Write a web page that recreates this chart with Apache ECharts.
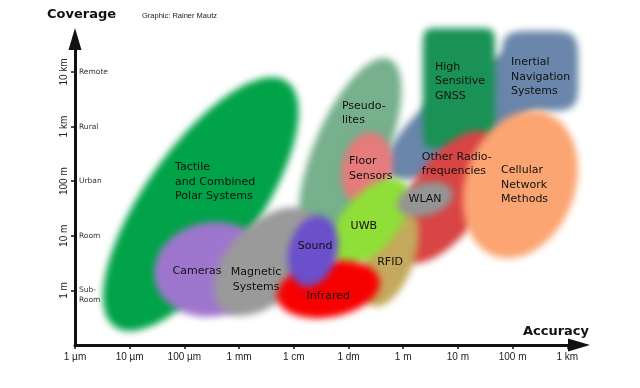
<!DOCTYPE html>
<html><head><meta charset="utf-8">
<script src="https://cdn.jsdelivr.net/npm/echarts@6/dist/echarts.min.js"></script>
<style>html,body{margin:0;padding:0;background:#fff}#c{width:640px;height:388px}</style>
</head><body><div id="c"></div>
<script>
// x: log10(accuracy / 1 µm), y: log10(coverage / 1 m)
const xTickValues = [0,1,2,3,4,5,6,7,8,9];
const xTickLabels = ['1 µm','10 µm','100 µm','1 mm','1 cm','1 dm','1 m','10 m','100 m','1 km'];
const yTickValues = [0,1,2,3,4];
const yTickLabels = ['1 m','10 m','100 m','1 km','10 km'];
const yCategoryLabels = [' \nSub-\nRoom','Room','Urban','Rural','Remote'];

// technology regions (drawn bottom to top)
const techNames   = ['Tactile','Pseudolites','Inertial A','Inertial B','GNSS','Other RF','Cellular','Floor Sensors','RFID','UWB','WLAN','Cameras','Magnetic','Infrared','Sound'];
const accCenter   = [2.30, 5.03, 7.29, 8.50, 7.02, 6.80, 8.14, 5.34, 5.76, 5.39, 6.40, 2.50, 3.51, 4.63, 4.35];
const covCenter   = [1.58, 2.55, 3.28, 4.02, 3.70, 1.71, 1.94, 2.22, 0.61, 1.25, 1.67, 0.385, 0.53, 0.02, 0.72];
const semiMajor   = [2.74, 1.83, 1.94, 0.70, 0.66, 1.39, 1.39, 0.68, 0.95, 0.96, 0.52, 1.06, 1.20, 0.95, 0.66];
const semiMinor   = [1.04, 0.66, 0.64, 0.73, 1.10, 0.66, 1.00, 0.46, 0.44, 0.50, 0.30, 0.86, 0.70, 0.51, 0.44];
const tiltDeg     = [55, 67, 36, 0, 0, 56, 70, 80, 70, 50, 15, 10, 46, 10, 75];
const squareness  = [2, 2, 2, 5, 12, 2, 2, 2, 2, 2, 2, 2, 2, 2, 2];
const techColors  = ['#00a348','#76b08c','#6a86ab','#6a86ab','#1a9256','#d94444','#fba572','#e67b7b','#c4a95c','#90df38','#959595','#9f76ce','#9a9a9a','#f70000','#6b4fcb'];

// labels
const labelTexts = ['Tactile\nand Combined\nPolar Systems','Cameras','Magnetic\nSystems','Sound','Infrared','RFID','UWB','WLAN','Floor\nSensors','Pseudo-\nlites','Other Radio-\nfrequencies','High\nSensitive\nGNSS','Inertial\nNavigation\nSystems','Cellular\nNetwork\nMethods'];
const labelAcc   = [1.83, 2.23, 3.31, 4.39, 4.63, 5.76, 5.28, 6.40, 5.01, 4.88, 6.34, 6.58, 7.97, 7.79];
const labelCov   = [1.99, 0.35, 0.20, 0.81, -0.11, 0.51, 1.17, 1.67, 2.23, 3.25, 2.31, 3.83, 3.91, 1.93];
const labelAlign = ['left','center','center','center','center','center','center','center','left','left','left','left','left','left'];

const OFF = 3000;
function blobItem(params, api) {
  const i = api.value(2);
  const c = api.coord([api.value(0), api.value(1)]);
  const s = api.size([1, 1]);
  const th = tiltDeg[i] * Math.PI / 180, n = squareness[i];
  const pts = [];
  const N = 120;
  for (let k = 0; k < N; k++) {
    const t = k / N * 2 * Math.PI;
    const ct = Math.cos(t), st = Math.sin(t);
    const u = semiMajor[i] * Math.sign(ct) * Math.pow(Math.abs(ct), 2 / n);
    const v = semiMinor[i] * Math.sign(st) * Math.pow(Math.abs(st), 2 / n);
    const dx = u * Math.cos(th) - v * Math.sin(th);
    const dy = u * Math.sin(th) + v * Math.cos(th);
    pts.push([c[0] + dx * s[0] - OFF, c[1] - dy * s[1]]);
  }
  return {
    type: 'polygon',
    shape: { points: pts },
    style: { fill: '#000', shadowBlur: 7, shadowColor: techColors[i], shadowOffsetX: OFF, shadowOffsetY: 0 }
  };
}
function labelItem(params, api) {
  const i = api.value(2);
  const c = api.coord([api.value(0), api.value(1)]);
  return {
    type: 'text', x: c[0], y: c[1],
    style: { text: labelTexts[i], fill: '#111', font: '11px "DejaVu Sans"', align: labelAlign[i], verticalAlign: 'middle', lineHeight: 14.5 }
  };
}

const chart = echarts.init(document.getElementById('c'), null, { renderer: 'canvas' });
chart.setOption({
  backgroundColor: '#fff',
  animation: false,
  title: [
    { text: 'Coverage', left: 47, top: 8, padding: 0, textStyle: { fontFamily: 'DejaVu Sans', fontWeight: 'bold', fontSize: 13, color: '#111' } },
    { text: 'Graphic: Rainer Mautz', left: 142, top: 12, padding: 0, textStyle: { fontFamily: 'Liberation Sans', fontWeight: 'normal', fontSize: 7.5, color: '#222' } },
    { text: 'Accuracy', right: 51, top: 325, padding: 0, textStyle: { fontFamily: 'DejaVu Sans', fontWeight: 'bold', fontSize: 13, color: '#111' } }
  ],
  grid: { left: 75, right: 61, top: 39, bottom: 43, containLabel: false },
  xAxis: {
    type: 'value', min: 0, max: 9.214,
    splitLine: { show: false },
    axisLine: { show: true, onZero: false, symbol: ['none', 'triangle'], symbolSize: [13, 22], lineStyle: { color: '#111', width: 3 } },
    axisTick: { show: true, customValues: xTickValues, length: 4, lineStyle: { color: '#111', width: 1.5 } },
    axisLabel: { customValues: xTickValues, margin: 7, color: '#222', fontFamily: 'Liberation Sans', fontSize: 10,
      formatter: v => xTickLabels[xTickValues.indexOf(Math.round(v))] || '' }
  },
  yAxis: [{
    type: 'value', min: -1, max: 4.604, position: 'left',
    splitLine: { show: false },
    axisLine: { show: true, onZero: false, symbol: ['none', 'triangle'], symbolSize: [13, 22], lineStyle: { color: '#111', width: 3 } },
    axisTick: { show: true, customValues: yTickValues, length: 4, lineStyle: { color: '#111', width: 1.5 } },
    axisLabel: { customValues: yTickValues, rotate: 90, margin: 6, color: '#222', fontFamily: 'Liberation Sans', fontSize: 10,
      formatter: v => yTickLabels[yTickValues.indexOf(Math.round(v))] || '' }
  }, {
    type: 'value', min: -1, max: 4.604, position: 'left', offset: 0,
    splitLine: { show: false }, axisLine: { show: false }, axisTick: { show: false },
    axisLabel: { customValues: yTickValues, inside: true, margin: 4, color: '#333', fontFamily: 'DejaVu Sans', fontSize: 7.5, lineHeight: 9.5,
      formatter: v => yCategoryLabels[yTickValues.indexOf(Math.round(v))] || '' }
  }],
  series: [{
    type: 'custom', name: 'regions', renderItem: blobItem, clip: false, silent: true, z: 1,
    encode: { x: 0, y: 1 },
    data: techNames.map((n, i) => [accCenter[i], covCenter[i], i])
  }, {
    type: 'custom', name: 'labels', renderItem: labelItem, clip: false, silent: true, z: 5,
    encode: { x: 0, y: 1 },
    data: labelTexts.map((t, i) => [labelAcc[i], labelCov[i], i])
  }]
});
</script></body></html>
